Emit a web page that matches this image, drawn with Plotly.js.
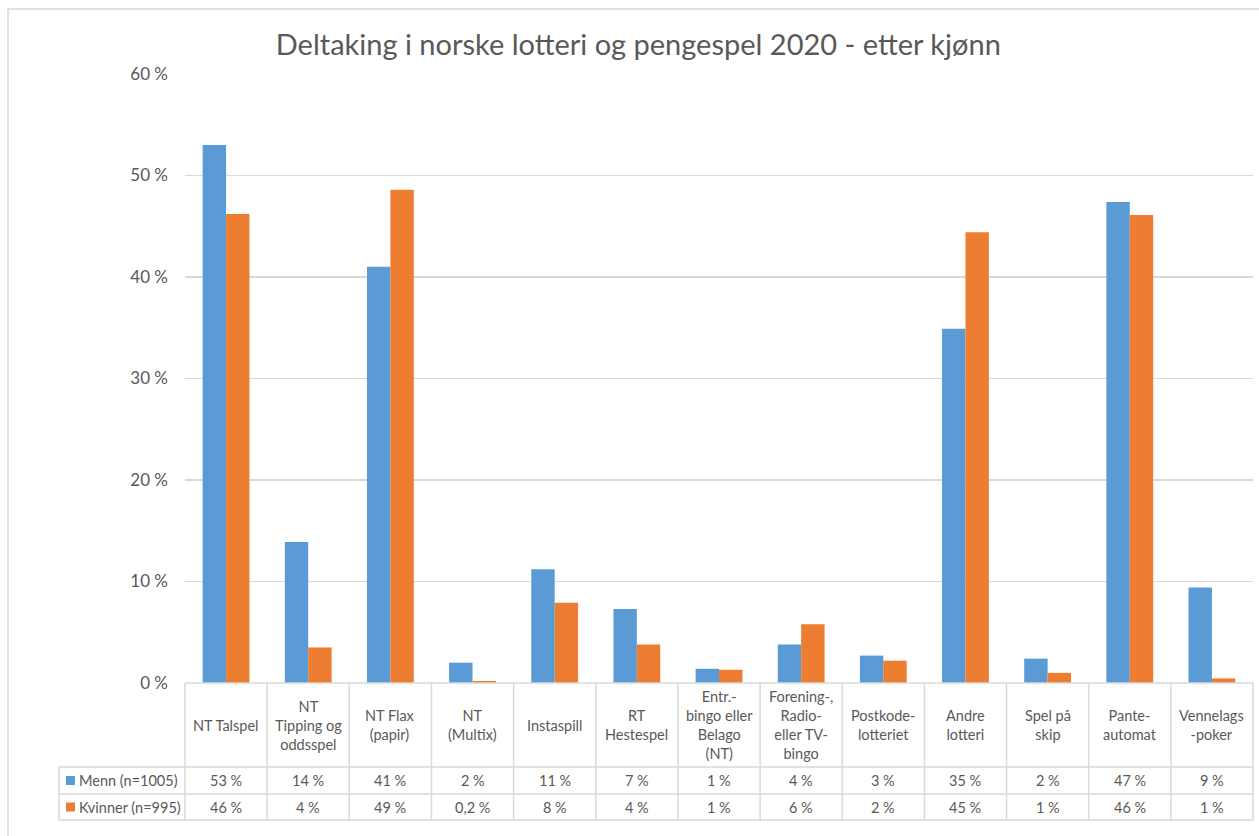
<!DOCTYPE html>
<html>
<head>
<meta charset="utf-8">
<script src="https://cdn.plot.ly/plotly-3.0.1.min.js"></script>
<style>html,body{margin:0;padding:0;background:#fff;}#chart{width:1259px;height:836px;}</style>
</head>
<body>
<div id="chart"></div>
<script>
const categories = ["NT Talspel", "NT<br>Tipping og<br>oddsspel", "NT Flax<br>(papir)", "NT<br>(Multix)", "Instaspill",
  "RT<br>Hestespel", "Entr.-<br>bingo eller<br>Belago<br>(NT)", "Forening-,<br>Radio-<br>eller TV-<br>bingo",
  "Postkode-<br>lotteriet", "Andre<br>lotteri", "Spel på<br>skip", "Pante-<br>automat", "Vennelags<br>-poker"];
const menn = [53.0, 13.9, 41.0, 2.0, 11.2, 7.3, 1.4, 3.8, 2.7, 34.9, 2.4, 47.4, 9.4];
const kvinner = [46.2, 3.5, 48.6, 0.2, 7.9, 3.8, 1.3, 5.8, 2.2, 44.4, 1.0, 46.1, 0.45];
const mennLabels = ["53 %", "14 %", "41 %", "2 %", "11 %", "7 %", "1 %", "4 %", "3 %", "35 %", "2 %", "47 %", "9 %"];
const kvinnerLabels = ["46 %", "4 %", "49 %", "0,2 %", "8 %", "4 %", "1 %", "6 %", "2 %", "45 %", "1 %", "46 %", "1 %"];
const seriesNames = ["Menn (n=1005)", "Kvinner (n=995)"];
const colors = ["#5B9BD5", "#ED7D31"];
const title = "Deltaking i norske lotteri og pengespel 2020 - etter kjønn";

// layout geometry (pixels)
const W = 1259, H = 836;
const L = 185, R = 1253, T = 74, B = 683;
const rowHeadBottom = 767, rowMennBottom = 794, rowKvBottom = 820, tableLeft = 59;
const px = x => (x - L) / (R - L);
const py = y => (B - y) / (B - T);
const n = categories.length;
const colX = i => i / n;
const grid = "#D9D9D9", txt = "#595959";
const FONT = "Lato, 'Open Sans', sans-serif";

const traces = [menn, kvinner].map((vals, k) => ({
  type: "bar", x: categories.map((c, i) => i), y: vals, name: seriesNames[k],
  marker: {color: colors[k]}, hoverinfo: "y", showlegend: false
}));

const shapes = [];
const line = (x0, y0, x1, y1) => shapes.push({type: "line", xref: "paper", yref: "paper",
  x0, y0, x1, y1, line: {color: grid, width: 1.5}, layer: "above"});
// outer frame
shapes.push({type: "rect", xref: "paper", yref: "paper", x0: px(8), y0: py(9), x1: px(1300), y1: py(900),
  line: {color: grid, width: 1.5}, layer: "below"});
// table horizontals
line(colX(0), py(B), colX(n), py(B));
[rowHeadBottom, rowMennBottom, rowKvBottom].forEach(y => line(px(tableLeft), py(y), colX(n), py(y)));
// table verticals
for (let i = 0; i <= n; i++) line(colX(i), py(B), colX(i), py(rowKvBottom));
line(px(tableLeft), py(rowHeadBottom), px(tableLeft), py(rowKvBottom));
// legend keys
const rowCenters = [(rowHeadBottom + rowMennBottom) / 2, (rowMennBottom + rowKvBottom) / 2];
rowCenters.forEach((yc, k) => shapes.push({type: "rect", xref: "paper", yref: "paper",
  x0: px(66), x1: px(75), y0: py(yc + 4.5), y1: py(yc - 4.5), fillcolor: colors[k], line: {width: 0}}));

const annotations = [];
categories.forEach((c, i) => {
  annotations.push({xref: "x", yref: "paper", x: i, y: py((B + rowHeadBottom) / 2), text: c,
    showarrow: false, xanchor: "center", yanchor: "middle", align: "center",
    font: {family: FONT, size: 14.5, color: txt}});
  [mennLabels, kvinnerLabels].forEach((lab, k) => annotations.push({xref: "x", yref: "paper", x: i,
    y: py(rowCenters[k]), text: lab[i], showarrow: false, xanchor: "center", yanchor: "middle",
    font: {family: FONT, size: 14.5, color: txt}}));
});
seriesNames.forEach((s, k) => annotations.push({xref: "paper", yref: "paper", x: px(77), y: py(rowCenters[k]),
  text: s, showarrow: false, xanchor: "left", yanchor: "middle", font: {family: FONT, size: 14.5, color: txt}}));

const layout = {
  width: W, height: H,
  margin: {l: L, r: W - R, t: T, b: H - B, pad: 0},
  paper_bgcolor: "#fff", plot_bgcolor: "#fff",
  title: {text: title, x: 0.507, xanchor: "center", y: 1 - 45 / H, yanchor: "middle",
    font: {family: FONT, size: 29, color: txt}},
  barmode: "group", bargap: 0.43, bargroupgap: 0,
  xaxis: {range: [-0.5, n - 0.5], showticklabels: false, showgrid: false, zeroline: false, showline: false, fixedrange: true},
  yaxis: {range: [0, 60], dtick: 10, ticksuffix: " %", showgrid: true, gridcolor: grid, gridwidth: 1.5,
    zeroline: false, showline: false, ticks: "", ticklabelstandoff: 16,
    tickfont: {family: FONT, size: 17, color: txt}, fixedrange: true},
  shapes, annotations, showlegend: false
};
Plotly.newPlot("chart", traces, layout, {displayModeBar: false, staticPlot: true});
</script>
</body>
</html>
